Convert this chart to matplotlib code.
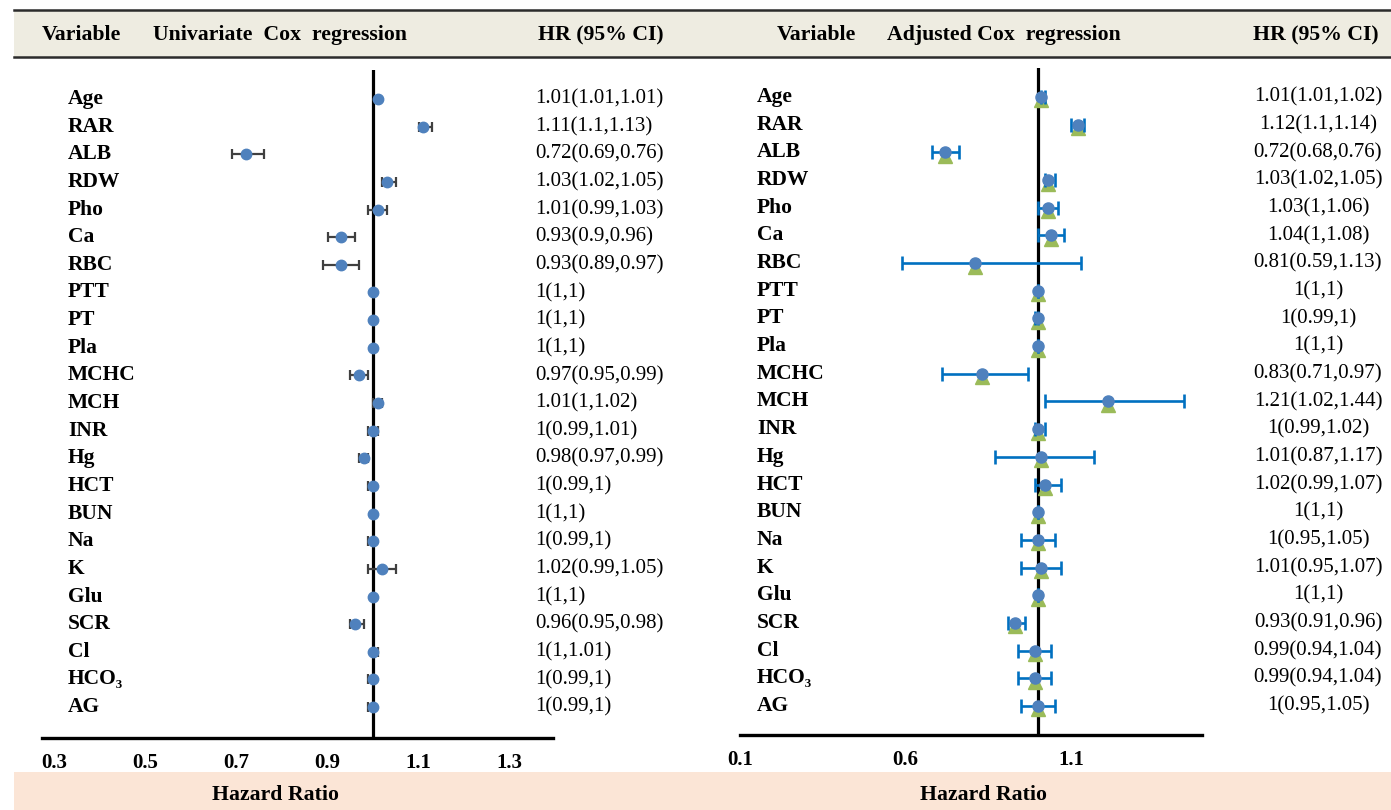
import numpy as np
import matplotlib
matplotlib.use('Agg')
import matplotlib.pyplot as plt
from matplotlib.patches import Rectangle
from matplotlib.lines import Line2D
from matplotlib import transforms

# ---------------- data ----------------
variables = ["Age", "RAR", "ALB", "RDW", "Pho", "Ca", "RBC", "PTT", "PT", "Pla",
             "MCHC", "MCH", "INR", "Hg", "HCT", "BUN", "Na", "K", "Glu", "SCR",
             "Cl", "HCO\u2083", "AG"]

uni_hr = [1.01, 1.11, 0.72, 1.03, 1.01, 0.93, 0.93, 1, 1, 1, 0.97, 1.01, 1, 0.98,
          1, 1, 1, 1.02, 1, 0.96, 1, 1, 1]
uni_lo = [1.01, 1.1, 0.69, 1.02, 0.99, 0.9, 0.89, 1, 1, 1, 0.95, 1, 0.99, 0.97,
          0.99, 1, 0.99, 0.99, 1, 0.95, 1, 0.99, 0.99]
uni_hi = [1.01, 1.13, 0.76, 1.05, 1.03, 0.96, 0.97, 1, 1, 1, 0.99, 1.02, 1.01, 0.99,
          1, 1, 1, 1.05, 1, 0.98, 1.01, 1, 1]

adj_hr = [1.01, 1.12, 0.72, 1.03, 1.03, 1.04, 0.81, 1, 1, 1, 0.83, 1.21, 1, 1.01,
          1.02, 1, 1, 1.01, 1, 0.93, 0.99, 0.99, 1]
adj_lo = [1.01, 1.1, 0.68, 1.02, 1, 1, 0.59, 1, 0.99, 1, 0.71, 1.02, 0.99, 0.87,
          0.99, 1, 0.95, 0.95, 1, 0.91, 0.94, 0.94, 0.95]
adj_hi = [1.02, 1.14, 0.76, 1.05, 1.06, 1.08, 1.13, 1, 1, 1, 0.97, 1.44, 1.02, 1.17,
          1.07, 1, 1.05, 1.07, 1, 0.96, 1.04, 1.04, 1.05]

left_ticks = [0.3, 0.5, 0.7, 0.9, 1.1, 1.3]
left_tick_labels = ["0.3", "0.5", "0.7", "0.9", "1.1", "1.3"]
right_ticks = [0.1, 0.6, 1.1]
right_tick_labels = ["0.1", "0.6", "1.1"]

left_title = "Univariate  Cox  regression"
right_title = "Adjusted Cox  regression"
col_var = "Variable"
col_hr = "HR (95% CI)"
xlabel = "Hazard Ratio"

# ---------------- layout helpers ----------------
W, H = 1391, 810
fig = plt.figure(figsize=(W / 100, H / 100), dpi=100)
SERIF = ['Liberation Serif', 'DejaVu Serif']


def fx(p):
    return p / W


def fy(p):
    return 1 - p / H


def fmt(v):
    return f"{v:g}"


# header band
fig.patches.append(Rectangle((fx(14), fy(57)), fx(W) - fx(14), fy(10) - fy(57),
                             transform=fig.transFigure, facecolor='#EEECE1',
                             edgecolor='none', zorder=0))
for yy in (10, 57):
    fig.lines.append(Line2D([fx(14), 1], [fy(yy), fy(yy)], color='#2b2b2b', lw=1.8,
                            transform=fig.transFigure))
# bottom band
fig.patches.append(Rectangle((fx(14), 0), fx(W) - fx(14), fy(772),
                             transform=fig.transFigure, facecolor='#FBE5D6',
                             edgecolor='none', zorder=0))

n = len(variables)
y = np.arange(n)


def make_ax(l, r, top, bot, xlim, row0, step):
    ax = fig.add_axes([fx(l), fy(bot), fx(r) - fx(l), fy(top) - fy(bot)])
    ax.set_xlim(*xlim)
    ax.set_ylim((bot - row0) / step, (top - row0) / step)
    for s in ['top', 'right', 'left']:
        ax.spines[s].set_visible(False)
    ax.spines['bottom'].set_linewidth(2.4)
    ax.set_yticks([])
    ax.patch.set_alpha(0)
    ax.axvline(1, color='black', lw=2.3, zorder=2)
    ax.tick_params(axis='x', length=0, pad=11)
    return ax


# ---------------- left panel ----------------
axL = make_ax(42, 553, 70, 738, (1 - 331 / 455, 1 + 180 / 455), 99, 27.64)
axL.set_xticks(left_ticks, left_tick_labels)
uh, ul, uu = np.array(uni_hr), np.array(uni_lo), np.array(uni_hi)
axL.errorbar(uh, y, xerr=[uh - ul, uu - uh], fmt='none', ecolor='#404040',
             elinewidth=1.6, capsize=3.5, capthick=1.6, zorder=3)
axL.plot(uh, y, 'o', color='#4F81BD', ms=7.5, zorder=4)

# ---------------- right panel ----------------
axR = make_ax(740, 1202, 68, 735, (1 - 298 / 331, 1 + 164 / 331), 97, 27.68)
axR.set_xticks(right_ticks, right_tick_labels)
ah, al, au = np.array(adj_hr), np.array(adj_lo), np.array(adj_hi)
tri_tr = axR.transData + transforms.ScaledTranslation(0, -2.5 / 72, fig.dpi_scale_trans)
axR.plot(ah, y, '^', color='#9BBB59', ms=10, zorder=3, transform=tri_tr)
axR.errorbar(ah, y, xerr=[ah - al, au - ah], fmt='none', ecolor='#0070C0',
             elinewidth=1.9, capsize=5, capthick=1.9, zorder=4)
axR.plot(ah, y, 'o', color='#4F81BD', ms=8, zorder=5)

for ax in (axL, axR):
    for lab in ax.get_xticklabels():
        lab.set_fontfamily(SERIF)
        lab.set_fontweight('bold')
        lab.set_fontsize(15)

# ---------------- row texts ----------------
trL = transforms.blended_transform_factory(fig.transFigure, axL.transData)
trR = transforms.blended_transform_factory(fig.transFigure, axR.transData)
for i, v in enumerate(variables):
    axL.text(fx(68), i, v, transform=trL, ha='left', va='center', family=SERIF,
             fontweight='bold', fontsize=15.5)
    axR.text(fx(757), i, v, transform=trR, ha='left', va='center', family=SERIF,
             fontweight='bold', fontsize=15.5)
    axL.text(fx(535), i, f"{fmt(uni_hr[i])}({fmt(uni_lo[i])},{fmt(uni_hi[i])})",
             transform=trL, ha='left', va='center', family=SERIF, fontsize=15)
    axR.text(fx(1318), i, f"{fmt(adj_hr[i])}({fmt(adj_lo[i])},{fmt(adj_hi[i])})",
             transform=trR, ha='center', va='center', family=SERIF, fontsize=15)

# ---------------- headers ----------------
hdr = dict(va='center', ha='left', family=SERIF, fontweight='bold', fontsize=15.7)
fig.text(fx(42), fy(35), col_var, **hdr)
fig.text(fx(153), fy(35), left_title, **hdr)
fig.text(fx(538), fy(35), col_hr, **hdr)
fig.text(fx(777), fy(35), col_var, **hdr)
fig.text(fx(887), fy(35), right_title, **hdr)
fig.text(fx(1253), fy(35), col_hr, **hdr)

fig.text(fx(276), fy(795), xlabel, ha='center', va='center', family=SERIF,
         fontweight='bold', fontsize=15.7)
fig.text(fx(984), fy(795), xlabel, ha='center', va='center', family=SERIF,
         fontweight='bold', fontsize=15.7)

fig.savefig('out.png', dpi=100)
